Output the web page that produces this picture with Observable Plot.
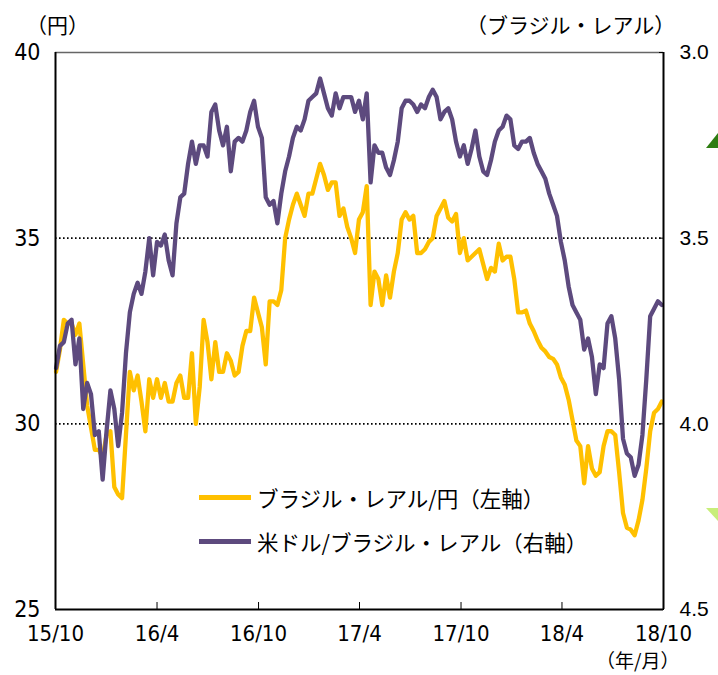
<!DOCTYPE html>
<html><head><meta charset="utf-8">
<script src="https://cdn.jsdelivr.net/npm/d3@7"></script>
<script src="https://cdn.jsdelivr.net/npm/@observablehq/plot@0.6"></script>
<style>
body{margin:0;background:#fff;}
#wrap{position:relative;width:718px;height:675px;font-family:"Noto Sans CJK JP",sans-serif;}
.lbl{position:absolute;font-size:21px;color:#000;white-space:nowrap;line-height:1;}
.leg{position:absolute;display:flex;align-items:center;font-size:21.5px;white-space:nowrap;}
.leg span.sw{display:inline-block;width:52px;height:4.5px;margin-right:6px;}
</style></head>
<body><div id="wrap"></div>
<script>
// weekly observations (Fridays) starting 2015-10-02
const startDate = "2015-10-02";
// ブラジル・レアル/円 (左軸, 円)
const brlJpy = [31.4,32.0,32.8,32.7,32.7,32.4,32.7,31.6,30.5,29.9,29.3,29.3,29.1,29.7,29.8,28.3,28.1,28.0,29.7,31.4,
30.9,31.3,30.6,29.8,31.2,30.7,31.2,30.7,31.1,30.6,30.6,31.1,31.3,30.7,30.7,31.9,30.0,31.0,32.8,32.2,
31.2,32.2,31.4,31.4,31.9,31.7,31.3,31.4,32.1,32.5,32.5,33.4,33.0,32.6,31.6,33.3,33.3,33.2,33.6,35.0,
35.5,35.9,36.2,35.9,35.6,36.2,36.2,36.6,37.0,36.7,36.3,36.5,36.5,35.6,35.8,35.3,35.0,34.6,35.5,35.7,
36.4,33.2,34.1,33.9,33.2,34.0,33.4,34.1,34.6,35.5,35.7,35.5,35.6,34.6,34.6,34.7,34.9,35.0,35.6,35.8,
36.0,35.55,35.45,35.65,34.6,35.0,34.4,34.5,34.6,34.7,34.3,33.9,34.2,34.1,34.85,34.4,34.5,34.5,33.9,33.0,
33.0,33.05,32.7,32.5,32.25,32.05,31.95,31.8,31.75,31.6,31.25,31.05,30.65,30.1,29.55,29.4,28.4,29.4,28.8,28.6,
28.7,29.4,29.8,29.8,29.7,28.7,27.6,27.2,27.15,27.0,27.4,27.95,28.8,29.8,30.3,30.4,30.6];
// 米ドル/ブラジル・レアル (右軸, レアル, 逆目盛)
const usdBrl = [3.85,3.79,3.78,3.73,3.72,3.84,3.77,3.96,3.89,3.92,4.03,4.02,4.15,4.02,3.91,3.96,4.06,3.97,3.81,3.70,
3.65,3.62,3.65,3.59,3.50,3.60,3.51,3.52,3.49,3.56,3.60,3.46,3.39,3.38,3.30,3.24,3.30,3.25,3.25,3.28,
3.16,3.14,3.21,3.25,3.20,3.32,3.24,3.23,3.24,3.21,3.16,3.13,3.20,3.23,3.39,3.41,3.40,3.46,3.38,3.32,
3.28,3.23,3.20,3.21,3.18,3.13,3.12,3.11,3.07,3.11,3.15,3.17,3.11,3.15,3.12,3.12,3.12,3.16,3.13,3.18,
3.11,3.35,3.25,3.27,3.27,3.31,3.33,3.29,3.24,3.15,3.13,3.13,3.14,3.16,3.14,3.15,3.12,3.10,3.12,3.18,
3.16,3.15,3.18,3.24,3.28,3.25,3.30,3.26,3.21,3.28,3.32,3.33,3.29,3.24,3.21,3.20,3.17,3.18,3.25,3.26,
3.24,3.24,3.23,3.27,3.30,3.32,3.34,3.38,3.41,3.44,3.51,3.56,3.63,3.68,3.70,3.72,3.80,3.77,3.82,3.92,
3.84,3.85,3.73,3.71,3.77,3.88,4.04,4.08,4.09,4.14,4.11,4.03,3.88,3.71,3.69,3.67,3.68];
const xTickDates = ["2015-10-01","2016-04-01","2016-10-01","2017-04-01","2017-10-01","2018-04-01","2018-10-01"];
const xTickLabels = ["15/10","16/4","16/10","17/4","17/10","18/4","18/10"];
const leftTicks = [25,30,35,40];
const rightTicks = [4.5,4.0,3.5,3.0];
const gridValues = [35,30];

const t0 = new Date(startDate + "T00:00:00Z");
const yellowData = brlJpy.map((v,i)=>({date:d3.utcDay.offset(t0,7*i), v}));
const purpleData = usdBrl.map((v,i)=>({date:d3.utcDay.offset(t0,7*i), v}));
// right axis (3.0 top → 4.5 bottom) mapped onto left scale (40 top → 25 bottom)
const toLeft = r => 40 - (r - 3) * 10;
const xTicks = xTickDates.map(s=>new Date(s+"T00:00:00Z"));
const tickLabel = d => xTickLabels[xTicks.findIndex(t=>+t===+d)];

const numFont = "'Liberation Sans Narrow','Arial Narrow','DejaVu Sans Condensed',sans-serif";
const chart = Plot.plot({
  width:718, height:675,
  marginLeft:55, marginRight:55, marginTop:52, marginBottom:66,
  style:{background:"transparent", fontFamily:numFont},
  x:{type:"utc", domain:[xTicks[0], xTicks[xTicks.length-1]]},
  y:{domain:[25,40]},
  marks:[
    Plot.ruleY(gridValues,{stroke:"#000", strokeWidth:1.6, strokeDasharray:"1.6,2.4"}),
    Plot.ruleY([40],{stroke:"#666", strokeWidth:1.5}),
    Plot.line(yellowData,{x:"date", y:"v", stroke:"#FFC000", strokeWidth:4.3, strokeLinejoin:"round"}),
    Plot.line(purpleData,{x:"date", y:d=>toLeft(d.v), stroke:"#5D4A7E", strokeWidth:4.3, strokeLinejoin:"round"}),
    Plot.ruleX([xTicks[0]],{stroke:"#000", strokeWidth:2}),
    Plot.ruleX([xTicks[xTicks.length-1]],{stroke:"#000", strokeWidth:2}),
    Plot.ruleY([25],{stroke:"#000", strokeWidth:2}),
    Plot.axisY({ticks:leftTicks, tickSize:0, tickPadding:15, fontSize:23, label:null, tickFormat:d=>String(d)}),
    Plot.axisY({anchor:"right", ticks:rightTicks.map(toLeft), tickSize:-5, tickPadding:21, fontSize:21, label:null,
      tickFormat:d=>(3+(40-d)/10).toFixed(1), fontFamily:"'Liberation Sans',Arial,sans-serif"}),
    Plot.axisX({ticks:xTicks, tickSize:-7, tickPadding:23, fontSize:22, label:null, tickFormat:tickLabel})
  ]
});
const wrap = document.getElementById("wrap");
wrap.appendChild(chart);

function addLabel(text, css){
  const d=document.createElement("div"); d.className="lbl"; d.textContent=text;
  Object.assign(d.style, css); wrap.appendChild(d);
}
addLabel("（円）",{left:"26px", top:"14px"});
addLabel("（ブラジル・レアル）",{left:"466px", top:"14px"});
addLabel("（年/月）",{left:"596px", top:"649px", fontSize:"19px", lineHeight:"1.15"});

const legendItems = [
  {name:"ブラジル・レアル/円（左軸）", color:"#FFC000"},
  {name:"米ドル/ブラジル・レアル（右軸）", color:"#5D4A7E"}
];
legendItems.forEach((it,i)=>{
  const d=document.createElement("div"); d.className="leg";
  d.style.left="199px"; d.style.top=(482+i*44)+"px";
  const sw=document.createElement("span"); sw.className="sw"; sw.style.background=it.color;
  const tx=document.createElement("span"); tx.textContent=it.name;
  d.appendChild(sw); d.appendChild(tx); wrap.appendChild(d);
});

// decorative triangles at right edge (cropped in original)
const deco = document.createElementNS("http://www.w3.org/2000/svg","svg");
deco.setAttribute("width","718"); deco.setAttribute("height","675");
deco.style.position="absolute"; deco.style.left="0"; deco.style.top="0"; deco.style.pointerEvents="none";
deco.innerHTML = '<polygon points="706,148 718,133 718,148" fill="#2E7D12"/>' +
                 '<polygon points="706,508 718,508 718,521" fill="#C8EE7A"/>';
wrap.appendChild(deco);
</script></body></html>
